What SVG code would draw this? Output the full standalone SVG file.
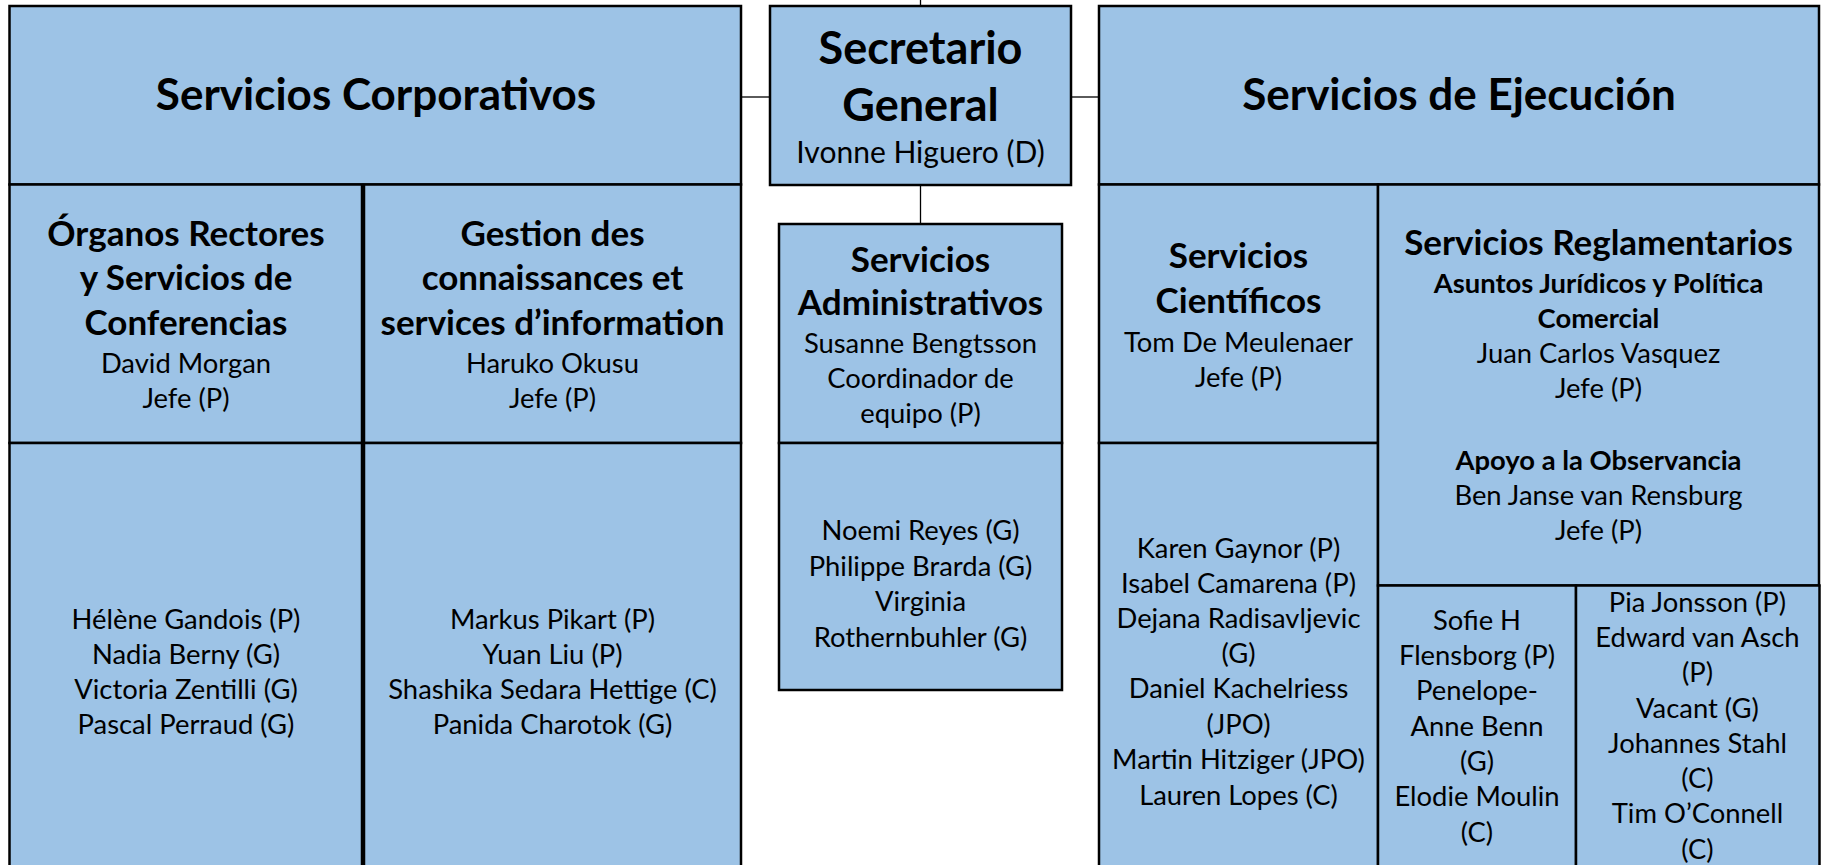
<svg xmlns="http://www.w3.org/2000/svg" width="1829" height="865" viewBox="0 0 1829 865">
<style>
.bg{fill:#ffffff}
.box{fill:#9DC3E6;stroke:#000;stroke-width:2.5}
.con{stroke:#000;stroke-width:1.3;fill:none}
text{font-family:Lato,"Liberation Sans",sans-serif;fill:#000;text-anchor:middle}
.h1{font-size:44px;font-weight:bold}
.h1s{font-size:45px;font-weight:bold}
.h2{font-size:35px;font-weight:bold}
.h3{font-size:27.4px;font-weight:bold}
.t{font-size:27.4px}
.tl{font-size:30px}
</style>
<rect class="bg" x="0" y="0" width="1829" height="865"/>
<g id="connectors">
<line class="con" x1="920.5" y1="0" x2="920.5" y2="6"/>
<line class="con" x1="741" y1="97" x2="770" y2="97"/>
<line class="con" x1="1071" y1="97" x2="1099" y2="97"/>
<line class="con" x1="920.5" y1="185" x2="920.5" y2="224"/>
</g>
<g id="servicios-corporativos">
<rect class="box" x="9.5" y="6" width="731.5" height="178.5"/>
<text class="h1" x="376" y="110">Servicios Corporativos</text>
</g>
<g id="organos-rectores">
<rect class="box" x="9.5" y="184.5" width="352.5" height="258.5"/>
<text class="h2" x="186" y="246">Órganos Rectores</text>
<text class="h2" x="186" y="290">y Servicios de</text>
<text class="h2" x="186" y="335">Conferencias</text>
<text class="t" x="186" y="373">David Morgan</text>
<text class="t" x="186" y="408">Jefe (P)</text>
</g>
<g id="organos-rectores-equipo">
<rect class="box" x="9.5" y="443" width="352.5" height="440"/>
<text class="t" x="186" y="629">Hélène Gandois (P)</text>
<text class="t" x="186" y="664">Nadia Berny (G)</text>
<text class="t" x="186" y="699">Victoria Zentilli (G)</text>
<text class="t" x="186" y="734">Pascal Perraud (G)</text>
</g>
<g id="gestion-connaissances">
<rect class="box" x="364" y="184.5" width="377" height="258.5"/>
<text class="h2" x="552.5" y="246">Gestion des</text>
<text class="h2" x="552.5" y="290">connaissances et</text>
<text class="h2" x="552.5" y="335">services d’information</text>
<text class="t" x="552.5" y="373">Haruko Okusu</text>
<text class="t" x="552.5" y="408">Jefe (P)</text>
</g>
<g id="gestion-connaissances-equipo">
<rect class="box" x="364" y="443" width="377" height="440"/>
<text class="t" x="552.5" y="629">Markus Pikart (P)</text>
<text class="t" x="552.5" y="664">Yuan Liu (P)</text>
<text class="t" x="552.5" y="699">Shashika Sedara Hettige (C)</text>
<text class="t" x="552.5" y="734">Panida Charotok (G)</text>
</g>
<g id="secretario-general">
<rect class="box" x="770" y="6" width="301" height="179"/>
<text class="h1s" x="920.5" y="64">Secretario</text>
<text class="h1s" x="920.5" y="121">General</text>
<text class="tl" x="920.5" y="163">Ivonne Higuero (D)</text>
</g>
<g id="servicios-administrativos">
<rect class="box" x="779" y="224" width="283" height="219"/>
<text class="h2" x="920.5" y="272">Servicios</text>
<text class="h2" x="920.5" y="315">Administrativos</text>
<text class="t" x="920.5" y="353">Susanne Bengtsson</text>
<text class="t" x="920.5" y="388">Coordinador de</text>
<text class="t" x="920.5" y="423">equipo (P)</text>
</g>
<g id="servicios-administrativos-equipo">
<rect class="box" x="779" y="443" width="283" height="247"/>
<text class="t" x="920.5" y="540">Noemi Reyes (G)</text>
<text class="t" x="920.5" y="576">Philippe Brarda (G)</text>
<text class="t" x="920.5" y="611">Virginia</text>
<text class="t" x="920.5" y="647">Rothernbuhler (G)</text>
</g>
<g id="servicios-ejecucion">
<rect class="box" x="1099" y="6" width="720" height="178.5"/>
<text class="h1" x="1459" y="110">Servicios de Ejecución</text>
</g>
<g id="servicios-cientificos">
<rect class="box" x="1099" y="184.5" width="279" height="258.5"/>
<text class="h2" x="1238.5" y="268">Servicios</text>
<text class="h2" x="1238.5" y="313">Científicos</text>
<text class="t" x="1238.5" y="352">Tom De Meulenaer</text>
<text class="t" x="1238.5" y="387">Jefe (P)</text>
</g>
<g id="servicios-cientificos-equipo">
<rect class="box" x="1099" y="443" width="279" height="440"/>
<text class="t" x="1238.5" y="558">Karen Gaynor (P)</text>
<text class="t" x="1238.5" y="593">Isabel Camarena (P)</text>
<text class="t" x="1238.5" y="628">Dejana Radisavljevic</text>
<text class="t" x="1238.5" y="663">(G)</text>
<text class="t" x="1238.5" y="698">Daniel Kachelriess</text>
<text class="t" x="1238.5" y="734">(JPO)</text>
<text class="t" x="1238.5" y="769">Martin Hitziger (JPO)</text>
<text class="t" x="1238.5" y="805">Lauren Lopes (C)</text>
</g>
<g id="servicios-reglamentarios">
<rect class="box" x="1378" y="184.5" width="441" height="401"/>
<text class="h2" x="1598.5" y="255">Servicios Reglamentarios</text>
<text class="h3" x="1598.5" y="293">Asuntos Jurídicos y Política</text>
<text class="h3" x="1598.5" y="328">Comercial</text>
<text class="t" x="1598.5" y="363">Juan Carlos Vasquez</text>
<text class="t" x="1598.5" y="398">Jefe (P)</text>
<text class="h3" x="1598.5" y="470">Apoyo a la Observancia</text>
<text class="t" x="1598.5" y="505">Ben Janse van Rensburg</text>
<text class="t" x="1598.5" y="540">Jefe (P)</text>
</g>
<g id="reglamentarios-equipo-1">
<rect class="box" x="1378" y="585.5" width="198" height="300"/>
<text class="t" x="1477" y="630">Sofie H</text>
<text class="t" x="1477" y="665">Flensborg (P)</text>
<text class="t" x="1477" y="700">Penelope-</text>
<text class="t" x="1477" y="736">Anne Benn</text>
<text class="t" x="1477" y="771">(G)</text>
<text class="t" x="1477" y="806">Elodie Moulin</text>
<text class="t" x="1477" y="842">(C)</text>
</g>
<g id="reglamentarios-equipo-2">
<rect class="box" x="1576" y="585.5" width="243.5" height="300"/>
<text class="t" x="1697.5" y="612">Pia Jonsson (P)</text>
<text class="t" x="1697.5" y="647">Edward van Asch</text>
<text class="t" x="1697.5" y="682">(P)</text>
<text class="t" x="1697.5" y="718">Vacant (G)</text>
<text class="t" x="1697.5" y="753">Johannes Stahl</text>
<text class="t" x="1697.5" y="788">(C)</text>
<text class="t" x="1697.5" y="823">Tim O’Connell</text>
<text class="t" x="1697.5" y="859">(C)</text>
</g>
</svg>
